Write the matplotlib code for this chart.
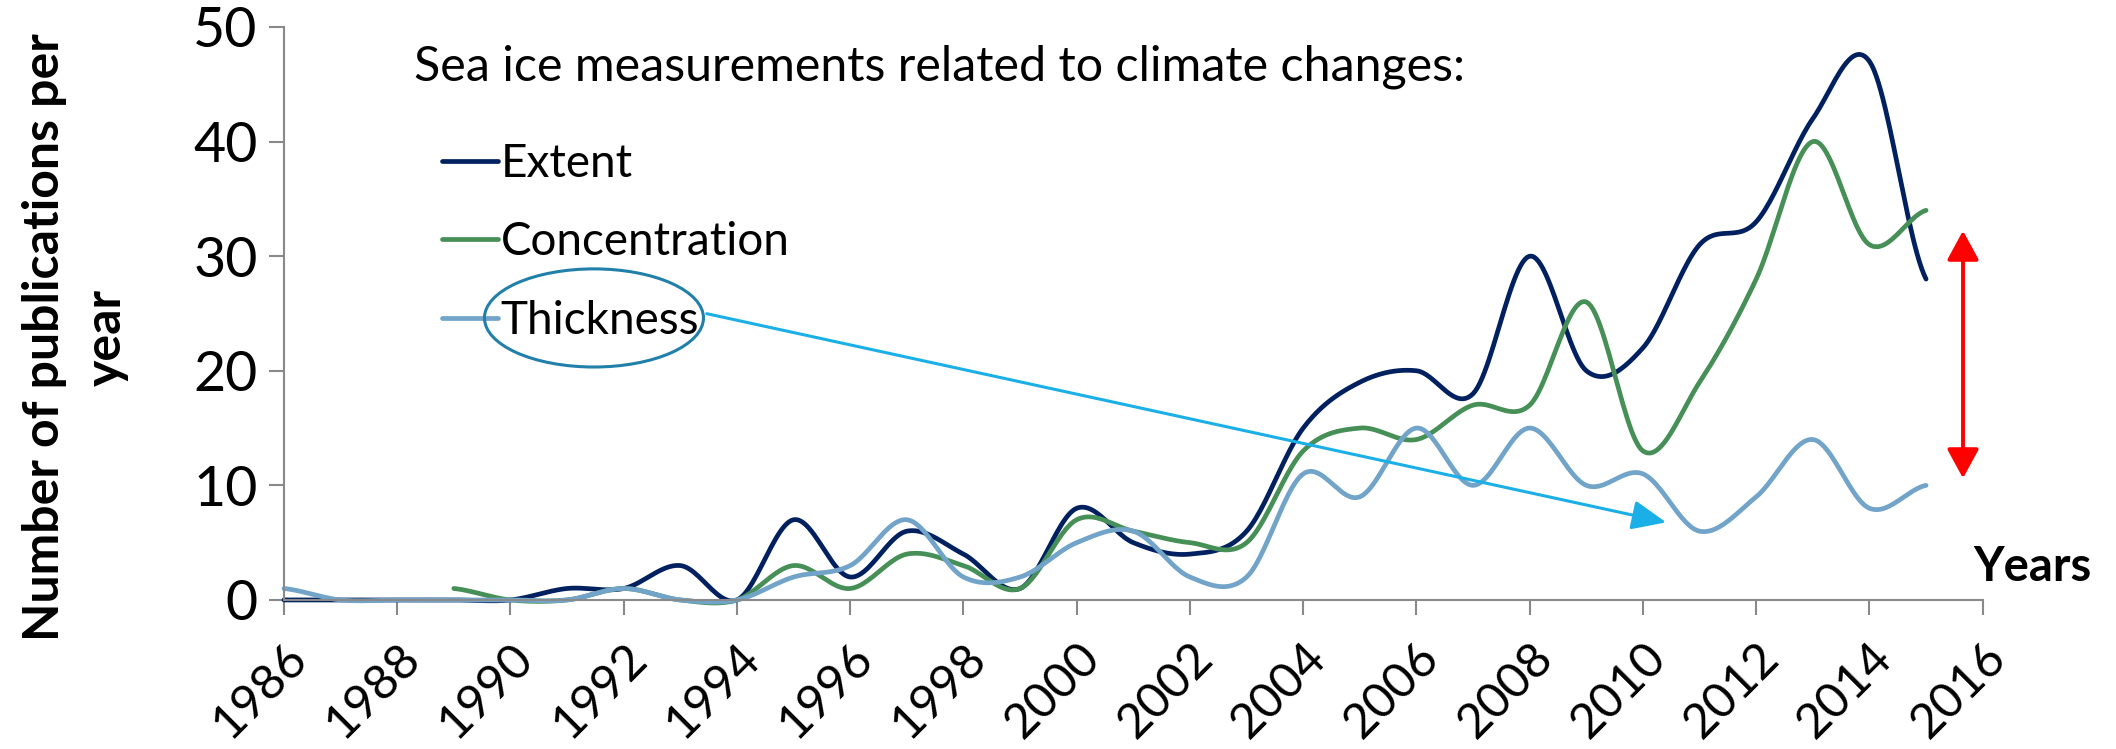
import numpy as np
import matplotlib
matplotlib.use('Agg')
import matplotlib.pyplot as plt
from matplotlib.patches import Ellipse, FancyArrowPatch

plt.rcParams['font.family'] = ['Lato', 'DejaVu Sans']

# publications per year
years = list(range(1986, 2016))
extent = [0, 0, 0, 0, 0, 1, 1, 3, 0, 7, 2, 6, 4, 1, 8, 5, 4, 6, 15, 19,
          20, 18, 30, 20, 22, 31, 33, 42, 47, 28]
concentration = [np.nan, np.nan, np.nan, 1, 0, 0, 1, 0, 0, 3, 1, 4, 3, 1, 7, 6, 5, 5, 13, 15,
                 14, 17, 17, 26, 13, 19, 28, 40, 31, 34]
thickness = [1, 0, 0, 0, 0, 0, 1, 0, 0, 2, 3, 7, 2, 2, 5, 6, 2, 2, 11, 9,
             15, 10, 15, 10, 11, 6, 9, 14, 8, 10]

series_names = ['Extent', 'Concentration', 'Thickness']
series_colors = ['#002060', '#468F57', '#71A4C8']
xtick_years = list(range(1986, 2017, 2))
ytick_values = [0, 10, 20, 30, 40, 50]


def smooth(x, y, n=25):
    """Excel-like smoothed line (Catmull-Rom through every point)."""
    x = np.asarray(x, float)
    y = np.asarray(y, float)
    ok = ~np.isnan(y)
    x, y = x[ok], y[ok]
    yp = np.concatenate([[y[0]], y, [y[-1]]])
    xs, ys = [], []
    t = np.linspace(0, 1, n, endpoint=False)
    for i in range(len(y) - 1):
        p0, p1, p2, p3 = yp[i], yp[i + 1], yp[i + 2], yp[i + 3]
        m1 = (p2 - p0) / 2
        m2 = (p3 - p1) / 2
        h = (p1 * (2 * t**3 - 3 * t**2 + 1) + m1 * (t**3 - 2 * t**2 + t)
             + p2 * (-2 * t**3 + 3 * t**2) + m2 * (t**3 - t**2))
        xs.append(x[i] + t * (x[i + 1] - x[i]))
        ys.append(h)
    xs.append([x[-1]])
    ys.append([y[-1]])
    return np.concatenate(xs), np.concatenate(ys)


fig = plt.figure(figsize=(21.16, 7.49), dpi=100)
ax = fig.add_axes([0.1342, 0.199, 0.8028, 0.765])

for name, vals, col in zip(series_names, [extent, concentration, thickness], series_colors):
    sx, sy = smooth(years, vals)
    ax.plot(sx, sy, color=col, lw=3.4, label=name, solid_capstyle='round', clip_on=False)

ax.set_xlim(1986, 2016)
ax.set_ylim(0, 50)
ax.set_xticks(xtick_years)
ax.set_xticklabels([str(v) for v in xtick_years], rotation=45, ha='right', va='top',
                   rotation_mode='anchor', fontsize=35)
ax.set_yticks(ytick_values)
ax.set_yticklabels([str(v) for v in ytick_values], fontsize=40)
ax.tick_params(axis='both', direction='out', length=11, width=1.5, color='#898989')
ax.tick_params(axis='y', pad=8)
ax.tick_params(axis='x', pad=14)
for s in ['top', 'right']:
    ax.spines[s].set_visible(False)
for s in ['left', 'bottom']:
    ax.spines[s].set_color('#898989')
    ax.spines[s].set_linewidth(1.5)

fig.text(0.0358, 0.550, 'Number of publications per\nyear', rotation=90, ha='center',
         va='center', fontsize=36, fontweight='bold', linespacing=1.45, multialignment='center')
fig.text(0.9325, 0.224, 'Years', fontsize=34, fontweight='bold', ha='left', va='baseline')

fig.text(0.1957, 0.911, 'Sea ice measurements related to climate changes:', fontsize=34.8,
         ha='left', va='center')
leg = ax.legend(loc='upper left', bbox_to_anchor=(0.082, 0.830), frameon=False, fontsize=33,
                handlelength=1.24, handletextpad=0.05, labelspacing=0.8, borderaxespad=0)

# circle round "Thickness" and pointer arrow
fig.patches.append(Ellipse((0.2807, 0.5755), 0.1035, 0.131, transform=fig.transFigure,
                           fill=False, edgecolor='#2180AA', lw=2.2))
fig.patches.append(FancyArrowPatch((0.3327, 0.582), (0.7887, 0.3018), transform=fig.transFigure,
                                   arrowstyle='-|>,head_length=1.05,head_width=0.45',
                                   mutation_scale=20, color='#1AAFE6', lw=2.2))
# red double arrow showing the gap
fig.patches.append(FancyArrowPatch((0.9277, 0.6956), (0.9277, 0.3578), transform=fig.transFigure,
                                   arrowstyle='<|-|>,head_length=0.9,head_width=0.49',
                                   mutation_scale=20, color='#FF0000', lw=2.8))

fig.savefig('out.png', dpi=100)
